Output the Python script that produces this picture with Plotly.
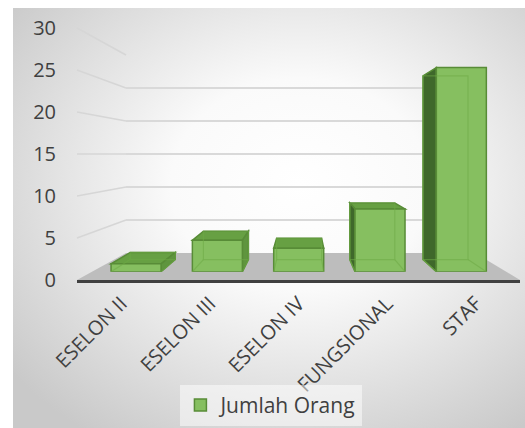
import base64
import plotly.graph_objects as go

# ---------------- data ----------------
categories = ["ESELON II", "ESELON III", "ESELON IV", "FUNGSIONAL", "STAF"]
values = [1, 4, 3, 8, 26]
series_name = "Jumlah Orang"
value_ticks = [0, 5, 10, 15, 20, 25, 30]

# ---------------- geometry (pixels of the 525x428 canvas) ----------------
W, H = 525, 428
VMAX = 30
FRONT_L, FRONT_R = 77, 520          # front edge of floor / category axis
FRONT_BOT, FRONT_TOP = 280, 28      # value axis (front plane)
BACK_L, BACK_R = 126, 475           # back wall
BACK_BOT, BACK_TOP = 253, 55
BAR_L, BAR_R = 95.4, 502            # bar plane horizontal extent
BAR_BOT, BAR_TOP = 271.7, 36.2      # bar plane vertical extent (0 .. 30)
BAR_W = 0.615
VP = (2.05, 15.5)                   # vanishing point in bar-plane data units
DEPTH = 0.10


def px(x):
    return x / W


def py(y):
    return 1 - y / H


def val_to_py(v, bot, top):
    return py(bot + (top - bot) * v / VMAX)


FONT = "Open Sans"
TXT = "#404040"
FRONT_FILL = "#86bf60"
EDGE = "#588c37"
TOP_FILL = "#67a043"
RSIDE_FILL = "#5f953e"
LSIDE_FILL = "#3f682b"

fig = go.Figure()

# subplot 1 : back wall (gridlines only)
fig.add_trace(go.Scatter(x=[0], y=[0], xaxis="x", yaxis="y", mode="markers",
                         marker=dict(opacity=0), hoverinfo="skip", showlegend=False))
# subplot 2 : bars
fig.add_trace(go.Bar(x=list(range(len(categories))), y=values, xaxis="x2", yaxis="y2",
                     width=BAR_W, name=series_name,
                     marker=dict(color=FRONT_FILL, line=dict(color=EDGE, width=1.5))))
# subplot 3 : front axes (labels + axis line)
fig.add_trace(go.Scatter(x=[0], y=[0], xaxis="x3", yaxis="y3", mode="markers",
                         marker=dict(opacity=0), hoverinfo="skip", showlegend=False))

shapes = []

# floor
floor = (f"M{px(FRONT_L)},{py(FRONT_BOT)} L{px(FRONT_R)},{py(FRONT_BOT)} "
         f"L{px(BACK_R)},{py(BACK_BOT)} L{px(BACK_L)},{py(BACK_BOT)} Z")
shapes.append(dict(type="path", path=floor, xref="paper", yref="paper",
                   fillcolor="#bdbdbd", line=dict(width=0), layer="below"))

# side wall gridlines (front value -> back value)
for v in value_ticks[1:]:
    shapes.append(dict(type="line", xref="paper", yref="paper", layer="below",
                       x0=px(FRONT_L), y0=val_to_py(v, FRONT_BOT, FRONT_TOP),
                       x1=px(BACK_L), y1=val_to_py(v, BACK_BOT, BACK_TOP),
                       line=dict(color="#d6d6d6", width=1.5)))


def back(p):
    return (p[0] + DEPTH * (VP[0] - p[0]), p[1] + DEPTH * (VP[1] - p[1]))


def path(pts):
    return "M" + " L".join(f"{x:.4f},{y:.4f}" for x, y in pts) + " Z"


for i, v in enumerate(values):
    xl, xr = i - BAR_W / 2, i + BAR_W / 2
    ftl, ftr, fbl, fbr = (xl, v), (xr, v), (xl, 0), (xr, 0)
    if v < VP[1]:
        shapes.append(dict(type="path", xref="x2", yref="y2", layer="below",
                           path=path([ftl, ftr, back(ftr), back(ftl)]),
                           fillcolor=TOP_FILL, line=dict(color=EDGE, width=1.5)))
    if VP[0] > xr:
        shapes.append(dict(type="path", xref="x2", yref="y2", layer="below",
                           path=path([ftr, fbr, back(fbr), back(ftr)]),
                           fillcolor=RSIDE_FILL, line=dict(color=EDGE, width=1.5)))
    elif VP[0] < xl:
        shapes.append(dict(type="path", xref="x2", yref="y2", layer="below",
                           path=path([ftl, fbl, back(fbl), back(ftl)]),
                           fillcolor=LSIDE_FILL, line=dict(color=EDGE, width=1.5)))
    # hidden back edges seen through the translucent bar
    inner = [back(fbl), back(fbr), back(ftr), back(ftl)]
    shapes.append(dict(type="path", xref="x2", yref="y2", layer="above",
                       path=path(inner), fillcolor="rgba(0,0,0,0)",
                       line=dict(color="rgba(110,170,70,0.55)", width=1.2)))
    for a in (fbl, fbr):
        b = back(a)
        shapes.append(dict(type="line", xref="x2", yref="y2", layer="above",
                           x0=a[0], y0=a[1], x1=b[0], y1=b[1],
                           line=dict(color="rgba(110,170,70,0.55)", width=1.2)))

# background gradient
svg = (f"<svg xmlns='http://www.w3.org/2000/svg' width='512' height='420' "
       f"viewBox='0 0 512 420' preserveAspectRatio='none'><defs>"
       f"<radialGradient id='g' cx='0.56' cy='0.42' r='0.72'>"
       f"<stop offset='0' stop-color='#ffffff'/><stop offset='0.35' stop-color='#fafafa'/>"
       f"<stop offset='1' stop-color='#c9c9c9'/></radialGradient></defs>"
       f"<rect width='512' height='420' fill='url(#g)'/></svg>")
src = "data:image/svg+xml;base64," + base64.b64encode(svg.encode()).decode()

fig.update_layout(
    width=W, height=H, autosize=False,
    margin=dict(l=0, r=0, t=0, b=0, pad=0, autoexpand=False),
    paper_bgcolor="white", plot_bgcolor="rgba(0,0,0,0)",
    font=dict(family=FONT, color=TXT),
    images=[dict(source=src, xref="paper", yref="paper", x=px(13), y=py(8),
                 sizex=px(W - 13), sizey=(H - 8) / H, xanchor="left", yanchor="top",
                 sizing="stretch", layer="below")],
    shapes=shapes,
    xaxis=dict(domain=[px(BACK_L), px(BACK_R)], range=[0, 1], visible=False, anchor="y",
               automargin=False),
    yaxis=dict(domain=[py(BACK_BOT), py(BACK_TOP)], range=[0, VMAX], anchor="x",
               tickvals=value_ticks[1:], showticklabels=False, showgrid=True,
               gridcolor="#d9d9d9", gridwidth=1.5, zeroline=False, showline=False, ticks="",
               automargin=False),
    xaxis2=dict(domain=[px(BAR_L), px(BAR_R)], range=[-0.5, len(categories) - 0.5],
                visible=False, anchor="y2", automargin=False),
    yaxis2=dict(domain=[py(BAR_BOT), py(BAR_TOP)], range=[0, VMAX], visible=False,
                anchor="x2", automargin=False),
    xaxis3=dict(domain=[px(FRONT_L), px(FRONT_R)], range=[-0.5, len(categories) - 0.5],
                anchor="y3", tickmode="array", tickvals=list(range(len(categories))),
                ticktext=categories, tickangle=-45, showgrid=False, zeroline=False,
                showline=True, linecolor="#404040", linewidth=3, ticks="",
                ticklabelstandoff=1, automargin=False,
                tickfont=dict(family=FONT, size=20, color=TXT)),
    yaxis3=dict(domain=[py(FRONT_BOT), py(FRONT_TOP)], range=[0, VMAX], anchor="x3",
                tickvals=value_ticks, showgrid=False, zeroline=False, showline=False,
                ticks="", ticklabelstandoff=20, automargin=False,
                tickfont=dict(family=FONT, size=20, color=TXT)),
    legend=dict(orientation="h", x=0.517, xanchor="center", y=0.005, yanchor="bottom",
                bgcolor="rgba(255,255,255,0.5)", font=dict(family=FONT, size=21, color=TXT)),
    showlegend=True,
)

fig.write_html("out.html", config={"displayModeBar": False},
               post_script="document.body.style.margin='0';"
                           "document.body.style.overflow='hidden';")
